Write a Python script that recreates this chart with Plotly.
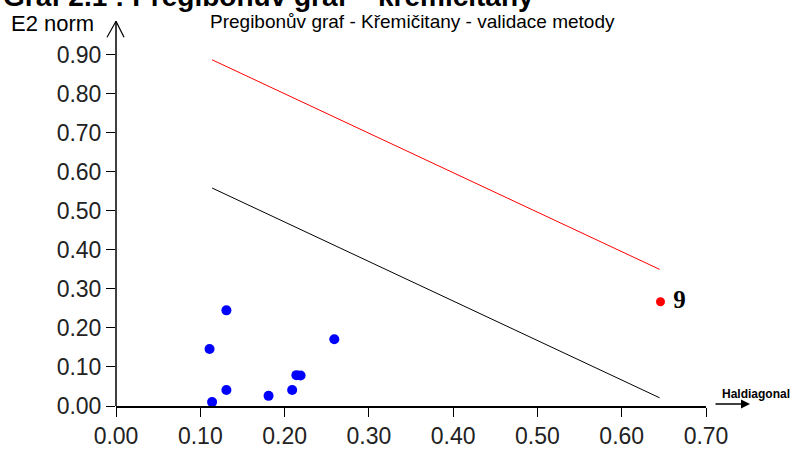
import plotly.graph_objects as go

# data
blue_x = [0.131, 0.111, 0.259, 0.214, 0.219, 0.131, 0.114, 0.181, 0.209]
blue_y = [0.245, 0.146, 0.171, 0.079, 0.078, 0.041, 0.010, 0.026, 0.041]
red_x = [0.646]
red_y = [0.267]
red_label = ["<b>&nbsp;9</b>"]
upper_line_x = [0.114, 0.645]
upper_line_y = [0.887, 0.350]
lower_line_x = [0.114, 0.645]
lower_line_y = [0.5585, 0.021]
x_ticks = [0.0, 0.1, 0.2, 0.3, 0.4, 0.5, 0.6, 0.7]
y_ticks = [0.0, 0.1, 0.2, 0.3, 0.4, 0.5, 0.6, 0.7, 0.8, 0.9]

fig = go.Figure()
fig.add_trace(go.Scatter(x=upper_line_x, y=upper_line_y, mode="lines",
                         line=dict(color="#ff0000", width=1), hoverinfo="skip"))
fig.add_trace(go.Scatter(x=lower_line_x, y=lower_line_y, mode="lines",
                         line=dict(color="#000000", width=1), hoverinfo="skip"))
fig.add_trace(go.Scatter(x=blue_x, y=blue_y, mode="markers",
                         marker=dict(color="#0000ff", size=10)))
fig.add_trace(go.Scatter(x=red_x, y=red_y, mode="markers+text", text=red_label,
                         textposition="middle right",
                         textfont=dict(family="Liberation Serif", size=25, color="#000"),
                         marker=dict(color="#ff0000", size=9)))

font_ax = "Liberation Sans, Arial, sans-serif"
fig.update_layout(
    width=798, height=461,
    margin=dict(l=116, r=92, t=43, b=35),
    paper_bgcolor="white", plot_bgcolor="white",
    showlegend=False,
    xaxis=dict(range=[0, 0.70], tickvals=x_ticks, tickformat=".2f",
               showgrid=False, zeroline=False, showline=True, linecolor="#000",
               linewidth=1.5, ticks="outside", ticklen=9, tickcolor="#000",
               tickfont=dict(family=font_ax, size=23, color="#222")),
    yaxis=dict(range=[0, 0.93], tickvals=y_ticks, tickformat=".2f",
               showgrid=False, zeroline=False, showline=False,
               ticks="outside", ticklen=9, tickcolor="#000",
               tickfont=dict(family=font_ax, size=23, color="#222")),
    annotations=[
        dict(text="<b>Graf 2.1 : Pregibonův graf – křemičitany</b>", xref="paper", yref="paper",
             x=-116/590 + 1/590, y=(426 - 12) / 383, xanchor="left", yanchor="bottom",
             showarrow=False, font=dict(family=font_ax, size=28, color="#000")),
        dict(text="Pregibonův graf - Křemičitany - validace metody", xref="paper", yref="paper",
             x=(413 - 116) / 590, y=(426 - 20) / 383, xanchor="center", yanchor="middle",
             showarrow=False, font=dict(family=font_ax, size=19, color="#000")),
        dict(text="E2 norm", xref="paper", yref="paper",
             x=(52 - 116) / 590, y=(426 - 22) / 383, xanchor="center", yanchor="middle",
             showarrow=False, font=dict(family=font_ax, size=22, color="#000")),
        dict(text="<b>Haldiagonal</b>", xref="paper", yref="paper",
             x=(756 - 116) / 590, y=(426 - 413) / 383, xanchor="center", yanchor="middle",
             showarrow=False, font=dict(family=font_ax, size=12, color="#000")),
        dict(text="", xref="paper", yref="paper",
             x=(750 - 116) / 590, y=(426 - 424) / 383, axref="pixel", ayref="pixel",
             ax=-36, ay=0, showarrow=True, arrowhead=2, arrowsize=1.2, arrowwidth=1.5,
             arrowcolor="#000"),
    ],
    shapes=[
        dict(type="line", xref="paper", yref="paper", x0=0, x1=0,
             y0=0, y1=(426 - 20) / 383, line=dict(color="#000", width=1.5)),
        dict(type="line", xref="paper", yref="paper", x0=0, x1=-9 / 590,
             y0=(426 - 20) / 383, y1=(426 - 37) / 383, line=dict(color="#000", width=1.2)),
        dict(type="line", xref="paper", yref="paper", x0=0, x1=8 / 590,
             y0=(426 - 20) / 383, y1=(426 - 37) / 383, line=dict(color="#000", width=1.2)),
    ],
)

fig.write_html("out.html")
